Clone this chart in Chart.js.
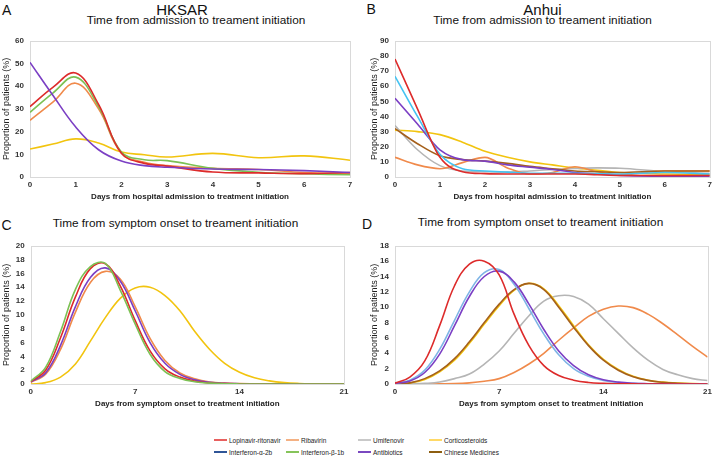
<!DOCTYPE html>
<html><head><meta charset="utf-8">
<script src="https://cdn.jsdelivr.net/npm/chart.js@4.4.1/dist/chart.umd.min.js"></script>
<style>
html,body{margin:0;padding:0;background:#fff;width:715px;height:456px;overflow:hidden;font-family:Arial,"Liberation Sans",sans-serif;color:#000}
canvas{position:absolute}
.t{position:absolute;white-space:nowrap;line-height:1;color:#111}
.c{transform:translateX(-50%)}
.leg{position:absolute;font-size:6.5px;line-height:7px;height:7px;white-space:nowrap;color:#222}
.leg i{display:inline-block;width:13px;height:1.6px;vertical-align:middle;margin-right:2px;margin-top:-1px}
</style></head><body>
<div class="t" style="left:2px;top:3px;font-size:14px">A</div>
<div class="t c" style="left:182px;top:2px;font-size:15px">HKSAR</div>
<div class="t c" style="left:196px;top:14.5px;font-size:11.8px">Time from admission to treament initiation</div>
<div class="t" style="left:366.5px;top:2px;font-size:14px">B</div>
<div class="t c" style="left:542.5px;top:2px;font-size:15px">Anhui</div>
<div class="t c" style="left:542.5px;top:15px;font-size:11.8px">Time from admission to treament initiation</div>
<div class="t" style="left:1.5px;top:218px;font-size:14px">C</div>
<div class="t c" style="left:175.5px;top:218px;font-size:11.8px">Time from symptom onset to treament initiation</div>
<div class="t" style="left:362px;top:217px;font-size:14px">D</div>
<div class="t c" style="left:540.5px;top:216.5px;font-size:11.8px">Time from symptom onset to treament initiation</div>

<canvas id="cA" width="358" height="172" style="left:0px;top:30px;width:358px;height:172px"></canvas>
<canvas id="cB" width="350" height="172" style="left:365px;top:30px;width:350px;height:172px"></canvas>
<canvas id="cC" width="352" height="174" style="left:0px;top:235px;width:352px;height:174px"></canvas>
<canvas id="cD" width="350" height="174" style="left:365px;top:235px;width:350px;height:174px"></canvas>
<div id="legend"></div>
<script>
// ---- Data ----
const legendLabels = ['Lopinavir-ritonavir','Ribavirin','Umifenovir','Corticosteroids','Interferon-α-2b','Interferon-β-1b','Antibiotics','Chinese Medicines'];
const yTitle = 'Proportion of patients (%)';
const xTitleAdm = 'Days from hospital admission to treatment initiation';
const xTitleSym = 'Days from symptom onset to treatment initiation';

// Panel A (HKSAR, admission -> treatment)
const daysA = [0, 0.5, 1, 1.5, 2, 2.5, 3, 4, 5, 6, 7];
const aLopinavir   = [31, 39.5, 45.8, 32, 10.5, 6, 4.8, 2.2, 1.8, 1.5, 2];
const aRibavirin   = [25, 33, 41.3, 30, 10.5, 6.5, 5, 3.8, 3.3, 2, 1.5];
const aIfnB        = [28.5, 37, 44, 31, 11, 7.6, 7.2, 3.8, 2.1, 1.4, 1];
const aAntibiotics = [50.5, 36, 22, 12, 7, 5, 4.3, 3.5, 3.3, 2.8, 2];
const aCortico     = [12.3, 14.5, 16.8, 15, 11, 9.8, 8.8, 10.4, 8.5, 9.3, 7.4];

// Panel B (Anhui, admission -> treatment)
const daysB = [0, 0.5, 1, 1.5, 2, 2.5, 3, 3.5, 4, 4.5, 5, 6, 7];
const bLopinavir   = [78, 45, 13, 3.5, 2.2, 2, 2, 2, 2, 1.5, 1, 1, 1];
const bRibavirin   = [13, 8, 5.5, 9.5, 13, 6, 2, 3, 6.8, 3.5, 1.5, 4, 4];
const bUmifenovir  = [34, 18, 7.5, 4, 3.5, 3.2, 4, 5, 5.6, 6, 5.8, 3.5, 2.5];
const bCortico     = [31, 30, 28, 23, 17, 13, 10, 8, 6, 4.5, 3, 2, 1.5];
const bIfnA        = [66.5, 40, 15, 5.5, 4, 3.2, 2.5, 2.5, 2.5, 2.2, 2, 3, 2];
const bAntibiotics = [52, 35, 18, 11.5, 10.5, 8, 6.5, 5, 3, 2, 1, 0.5, 0.5];
const bChinese     = [32, 22, 14, 11.5, 10.5, 9, 7, 5.5, 4, 3.5, 3, 4, 4];

// Panel C (HKSAR, symptom onset -> treatment)
const daysCD = [0,1,2,3,4,5,6,7,8,9,10,11,12,13,14,15,16,17,18,19,20,21];
const cLopinavir   = [0.35,2.0,6.7,12.6,16.7,17.4,14.2,9.2,4.8,2.2,1.0,0.4,0.15,0.05,0.02,0,0,0,0,0,0,0];
const cRibavirin   = [0.25,1.4,5.0,10.4,14.7,16.3,15.2,11.2,6.6,3.4,1.6,0.75,0.3,0.12,0.05,0.02,0,0,0,0,0,0];
const cIfnB        = [0.4,2.4,7.6,13.7,17.0,17.45,13.6,8.7,4.3,1.8,0.8,0.32,0.12,0.04,0.01,0,0,0,0,0,0,0];
const cAntibiotics = [0.3,1.6,5.6,11.2,15.4,16.8,14.9,10.6,6.0,3.0,1.4,0.6,0.25,0.1,0.04,0.01,0,0,0,0,0,0];
const cCortico     = [0,0.2,1.0,2.9,6.2,9.6,12.4,13.9,14.0,12.8,10.6,7.6,5.0,3.0,1.7,0.9,0.45,0.2,0.08,0.03,0.01,0];

// Panel D (Anhui, symptom onset -> treatment)
const dLopinavir   = [0.1,0.9,3.0,7.6,12.8,15.6,16.0,14.2,9.1,5.0,2.4,1.1,0.5,0.2,0.08,0.03,0.01,0,0,0,0,0];
const dRibavirin   = [0,0,0,0.02,0.05,0.15,0.35,0.7,1.5,2.6,4.0,5.7,7.3,8.8,9.75,10.15,9.95,9.1,7.85,6.4,4.9,3.5];
const dUmifenovir  = [0,0.02,0.08,0.25,0.7,1.3,2.6,4.3,6.6,8.9,10.8,11.5,11.4,10.4,8.5,6.6,4.7,3.1,1.9,1.2,0.7,0.45];
const dCortico     = [0,0.12,0.6,1.6,3.1,5.3,7.8,10.2,12.2,13.1,12.4,10.2,7.6,5.1,3.2,1.9,1.0,0.5,0.24,0.11,0.05,0.02];
const dIfnA        = [0.1,0.5,1.8,4.5,8.3,12.0,14.5,14.9,13.0,9.8,6.5,3.8,2.0,1.0,0.45,0.2,0.08,0.03,0.01,0,0,0];
const dAntibiotics = [0.08,0.4,1.5,3.9,7.6,11.4,14.0,14.7,13.3,10.4,7.1,4.3,2.4,1.2,0.55,0.25,0.1,0.04,0.01,0,0,0];
const dChinese     = [0,0.15,0.7,1.7,3.3,5.5,8.0,10.4,12.3,13.1,12.3,10.0,7.4,5.0,3.1,1.8,0.95,0.47,0.22,0.1,0.04,0.02];

// ---- Styles ----
const COL = {
  lop: '#dd2b2b', rib: '#f08a4b', umi: '#b5b5b5', cor: '#f2c40f',
  ifnaB: '#45c3f2', ifnaD: '#7fb5e6', ifnb: '#7cc154', abx: '#7b3fc4', chi: '#a5601c'
};
const LEGCOL = ['#e8605f','#f4b183','#c9c9c9','#ffd966','#2f5597','#86c45a','#7a48c0','#8d5e10'];
const FONT = 'Arial, "Liberation Sans", sans-serif';

function ds(xs, ys, color, label){
  return { label, data: xs.map((x,i)=>({x, y: ys[i]})), borderColor: color, backgroundColor: color,
           borderWidth: 1.6, pointRadius: 0, fill: false };
}

const boxPlugin = {
  id: 'box',
  beforeDatasetsDraw(chart){
    const {ctx, chartArea:a} = chart;
    ctx.save(); ctx.strokeStyle = '#d9d9d9'; ctx.lineWidth = 1;
    ctx.strokeRect(Math.round(a.left)+0.5, Math.round(a.top)+0.5, Math.round(a.right-a.left), Math.round(a.bottom-a.top));
    ctx.restore();
  }
};

function make(id, datasets, o){
  return new Chart(document.getElementById(id), {
    type: 'line',
    data: { datasets },
    plugins: [boxPlugin],
    options: {
      responsive: false, maintainAspectRatio: false, animation: false,
      layout: { padding: { left: o.padL, right: o.padR, top: 6, bottom: 0 } },
      elements: { line: { tension: o.tension, cubicInterpolationMode: o.mode } },
      plugins: { legend: { display: false }, tooltip: { enabled: false } },
      scales: {
        x: { type: 'linear', min: 0, max: o.xMax,
             ticks: { stepSize: o.xStep, padding: 3, maxRotation: 0, color: '#333', font: { family: FONT, size: 8, weight: 'bold' } },
             grid: { display: false, drawTicks: false }, border: { display: false },
             title: { display: true, text: o.xTitle, color: '#222', padding: 0, font: { family: FONT, size: 8, weight: 'bold' } },
             afterFit: s => { s.height = 25; } },
        y: { type: 'linear', min: 0, max: o.yMax,
             ticks: { stepSize: o.yStep, padding: 6, color: '#333', font: { family: FONT, size: 8, weight: 'bold' } },
             grid: { display: false, drawTicks: false }, border: { display: false },
             title: { display: true, text: yTitle, color: '#222', padding: 0, font: { family: FONT, size: 9 } },
             afterFit: s => { s.width = o.yW; } }
      }
    }
  });
}

// Chart.js draws the first dataset on top, so lists run from top-most to bottom-most.
make('cA', [
  ds(daysA, aAntibiotics, COL.abx, legendLabels[6]),
  ds(daysA, aLopinavir, COL.lop, legendLabels[0]),
  ds(daysA, aIfnB, COL.ifnb, legendLabels[5]),
  ds(daysA, aRibavirin, COL.rib, legendLabels[1]),
  ds(daysA, aCortico, COL.cor, legendLabels[3])
], { padL: 1, padR: 8, yW: 29, xMax: 7, xStep: 1, yMax: 60, yStep: 10, xTitle: xTitleAdm, tension: 0.4, mode: 'default' });

make('cB', [
  ds(daysB, bLopinavir, COL.lop, legendLabels[0]),
  ds(daysB, bIfnA, COL.ifnaB, legendLabels[4]),
  ds(daysB, bAntibiotics, COL.abx, legendLabels[6]),
  ds(daysB, bChinese, COL.chi, legendLabels[7]),
  ds(daysB, bRibavirin, COL.rib, legendLabels[1]),
  ds(daysB, bUmifenovir, COL.umi, legendLabels[2]),
  ds(daysB, bCortico, COL.cor, legendLabels[3])
], { padL: 4, padR: 4, yW: 26, xMax: 7, xStep: 1, yMax: 90, yStep: 10, xTitle: xTitleAdm, tension: 0.4, mode: 'monotone' });

make('cC', [
  ds(daysCD, cIfnB, COL.ifnb, legendLabels[5]),
  ds(daysCD, cLopinavir, COL.lop, legendLabels[0]),
  ds(daysCD, cAntibiotics, COL.abx, legendLabels[6]),
  ds(daysCD, cRibavirin, COL.rib, legendLabels[1]),
  ds(daysCD, cCortico, COL.cor, legendLabels[3])
], { padL: 1, padR: 8, yW: 29.7, xMax: 21, xStep: 7, yMax: 20, yStep: 2, xTitle: xTitleSym, tension: 0.4, mode: 'default' });

make('cD', [
  ds(daysCD, dLopinavir, COL.lop, legendLabels[0]),
  ds(daysCD, dAntibiotics, COL.abx, legendLabels[6]),
  ds(daysCD, dIfnA, COL.ifnaD, legendLabels[4]),
  ds(daysCD, dChinese, COL.chi, legendLabels[7]),
  ds(daysCD, dCortico, COL.cor, legendLabels[3]),
  ds(daysCD, dUmifenovir, COL.umi, legendLabels[2]),
  ds(daysCD, dRibavirin, COL.rib, legendLabels[1])
], { padL: 4, padR: 4, yW: 26, xMax: 21, xStep: 7, yMax: 18, yStep: 2, xTitle: xTitleSym, tension: 0.4, mode: 'default' });

// ---- HTML legend ----
const legX = [214, 286, 358, 429];
const legY = [436.5, 448.5];
const legHost = document.getElementById('legend');
legendLabels.forEach((lab, i) => {
  const d = document.createElement('div');
  d.className = 'leg';
  d.style.left = legX[i % 4] + 'px';
  d.style.top = legY[Math.floor(i / 4)] + 'px';
  const ln = document.createElement('i');
  ln.style.background = LEGCOL[i];
  d.appendChild(ln);
  d.appendChild(document.createTextNode(lab));
  legHost.appendChild(d);
});
</script>
</body></html>
